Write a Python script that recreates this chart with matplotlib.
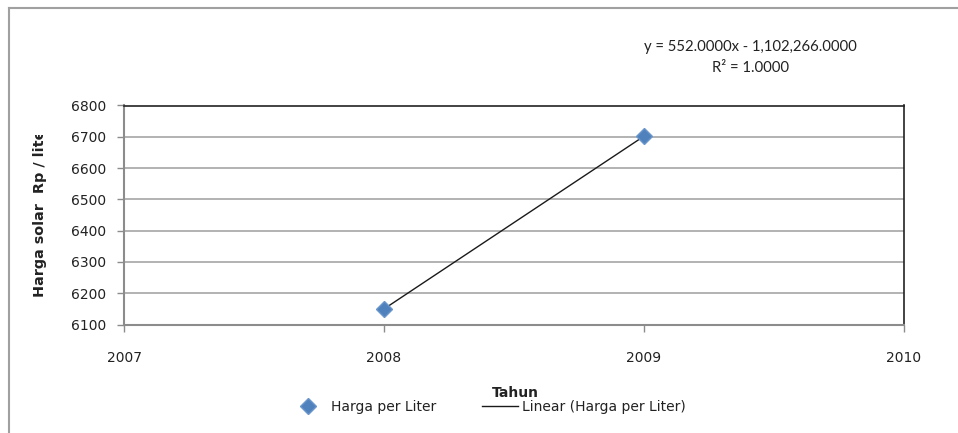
import numpy as np
import matplotlib.pyplot as plt
from matplotlib.lines import Line2D
from matplotlib.transforms import Bbox

# data
tahun = [2008, 2009]
harga = [6150, 6702]
x_ticks = [2007, 2008, 2009, 2010]
y_ticks = [6100, 6200, 6300, 6400, 6500, 6600, 6700, 6800]

W, H = 958, 433
fig = plt.figure(figsize=(W / 100, H / 100), dpi=100)
ax = fig.add_axes([124 / W, 1 - 324.6 / H, (904 - 124) / W, (324.6 - 105.5) / H])

# trendline from a linear fit
a, b = np.polyfit(tahun, harga, 1)
xs = np.array(tahun, dtype=float)
ax.plot(xs, a * xs + b, color='#1a1a1a', lw=1.0, zorder=3, label='Linear (Harga per Liter)')
ax.plot(tahun, harga, ls='none', marker='D', ms=8, color='#4F81BD', mec='#6A96CC',
        zorder=4, label='Harga per Liter')

ax.set_xlim(2007, 2010)
ax.set_ylim(6100, 6800)
ax.set_xticks(x_ticks)
ax.set_yticks(y_ticks)
ax.yaxis.grid(True, color='#A6A6A6', lw=1.2)
ax.set_axisbelow(True)

for s in ['left', 'bottom']:
    ax.spines[s].set_color('#8C8C8C')
    ax.spines[s].set_linewidth(1.5)
for s in ['top', 'right']:
    ax.spines[s].set_color('#222222')
    ax.spines[s].set_linewidth(1.2)

ax.tick_params(axis='x', length=5, width=1, color='#8C8C8C', pad=14,
               labelsize=10, labelcolor='#222222')
ax.tick_params(axis='y', length=5, width=1, color='#8C8C8C', pad=8,
               labelsize=10, labelcolor='#222222')

# trendline equation
fig.text(750 / W, 1 - 47 / H, 'y = %.4fx - %s' % (a, format(-b, ',.4f')),
         ha='center', va='center', fontsize=10.7, family='Lato', color='#222222')
fig.text(750 / W, 1 - 68 / H, 'R² = 1.0000', ha='center', va='center',
         fontsize=10.7, family='Lato', color='#222222')

# y label, clipped like in the original
yl = fig.text(40 / W, 1 - 297 / H, 'Harga solar  Rp / liter', rotation=90,
              rotation_mode='anchor', ha='left', va='center',
              fontsize=10.4, fontweight='bold', color='#222222')
yl.set_clip_box(Bbox.from_extents(0, 0, W, H - 135))
yl.set_clip_on(True)

fig.text(515 / W, 1 - 393 / H, 'Tahun', ha='center', va='center',
         fontsize=10, fontweight='bold', color='#222222')

h, l = ax.get_legend_handles_labels()
fig.legend(h[::-1], l[::-1], ncol=2, loc='center', bbox_to_anchor=(488 / W, 1 - 407 / H),
           frameon=False, fontsize=10, handlelength=2.6, handletextpad=0.3,
           columnspacing=3.3, labelcolor='#222222')

# outer chart frame
fig.add_artist(Line2D([9 / W, 9 / W], [0, 1 - 8 / H], color='#A0A0A0', lw=1.5))
fig.add_artist(Line2D([9 / W, 1], [1 - 8 / H, 1 - 8 / H], color='#A0A0A0', lw=1.5))

fig.savefig('out.png', dpi=100)
